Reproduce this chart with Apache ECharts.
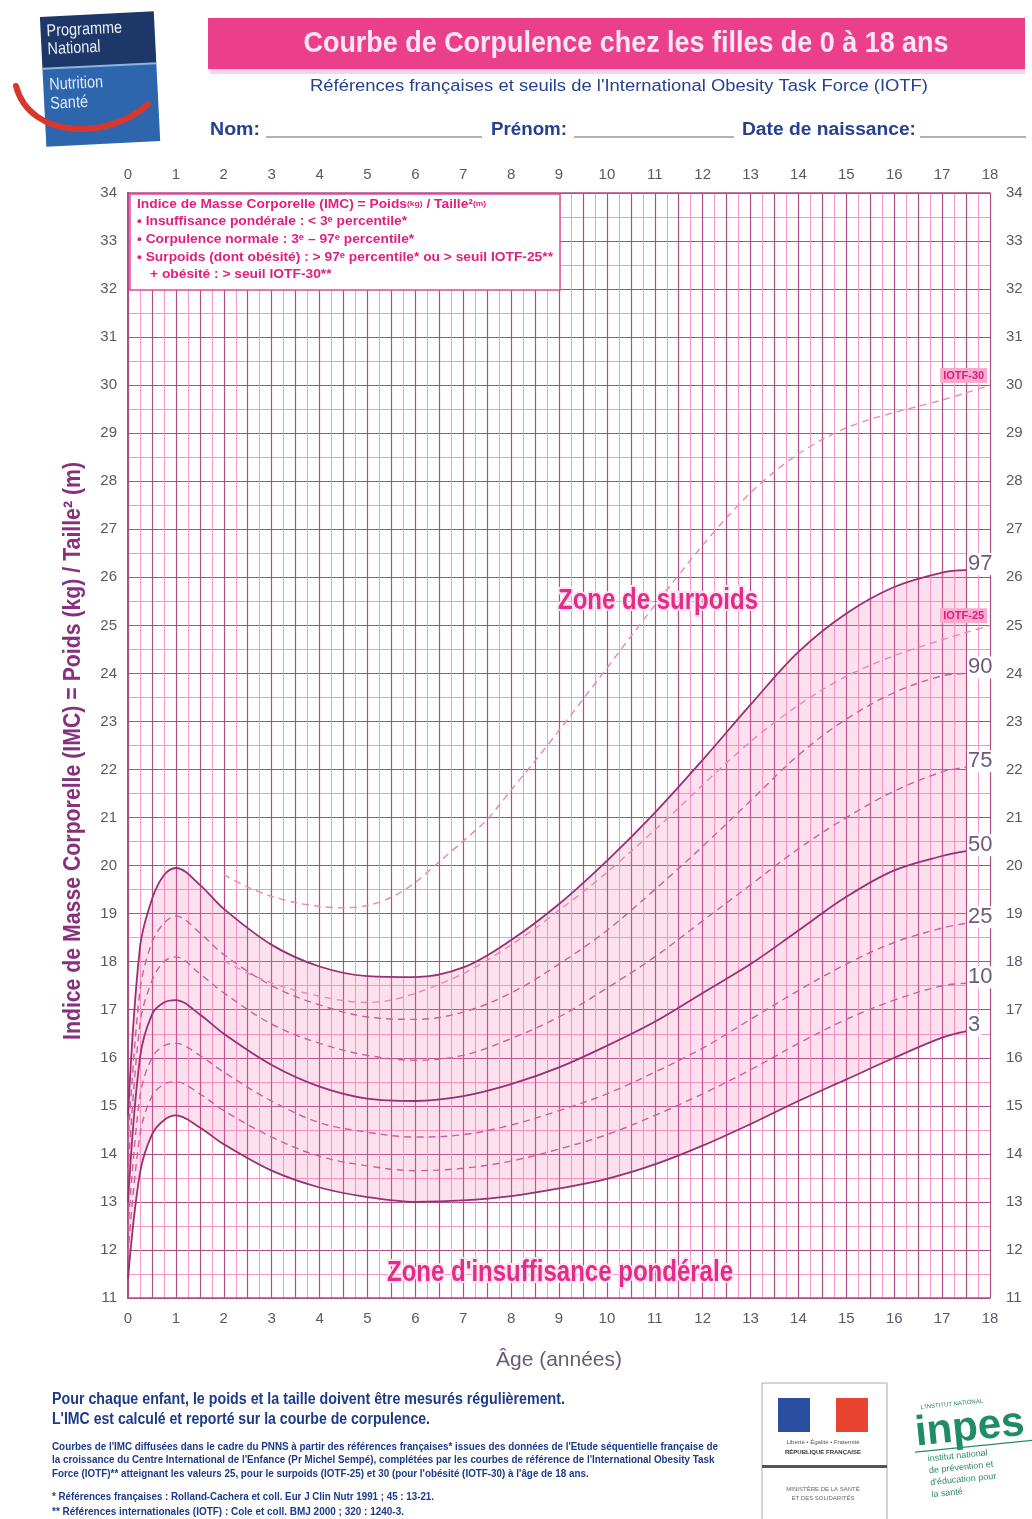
<!DOCTYPE html>
<html><head><meta charset="utf-8">
<script src="https://cdn.jsdelivr.net/npm/echarts@6/dist/echarts.min.js"></script>
<style>html,body{margin:0;padding:0;background:#fff}#c{width:1032px;height:1519px}</style>
</head><body><div id="c"></div><script>
// ---- data ----
const ages = [0, 0.25, 0.5, 0.75, 1, 1.5, 2, 3, 4, 5, 6, 7, 8, 9, 10, 11, 12, 13, 14, 15, 16, 17, 17.5];
const p97 = [14.8, 18.3, 19.3, 19.8, 19.95, 19.6, 19.1, 18.35, 17.9, 17.7, 17.68, 17.88, 18.45, 19.2, 20.1, 21.1, 22.2, 23.35, 24.45, 25.25, 25.8, 26.1, 26.15];
const p90 = [14.2, 17.4, 18.4, 18.8, 18.95, 18.6, 18.15, 17.5, 17.1, 16.85, 16.8, 16.95, 17.35, 17.95, 18.65, 19.5, 20.4, 21.35, 22.3, 23.05, 23.6, 23.95, 24.0];
const p75 = [13.6, 16.7, 17.6, 18.0, 18.1, 17.75, 17.35, 16.7, 16.3, 16.05, 15.95, 16.05, 16.4, 16.85, 17.45, 18.1, 18.85, 19.6, 20.35, 21.0, 21.55, 21.95, 22.05];
const p50 = [13.0, 16.0, 16.9, 17.15, 17.2, 16.9, 16.5, 15.85, 15.4, 15.15, 15.1, 15.2, 15.45, 15.8, 16.25, 16.75, 17.35, 17.95, 18.65, 19.35, 19.9, 20.2, 20.3];
const p25 = [12.4, 15.2, 16.0, 16.25, 16.3, 16.05, 15.7, 15.1, 14.65, 14.45, 14.35, 14.4, 14.6, 14.9, 15.25, 15.7, 16.2, 16.8, 17.4, 17.95, 18.4, 18.7, 18.8];
const p10 = [11.9, 14.4, 15.2, 15.45, 15.5, 15.25, 14.9, 14.35, 13.95, 13.75, 13.65, 13.7, 13.85, 14.1, 14.4, 14.8, 15.25, 15.75, 16.3, 16.8, 17.2, 17.5, 17.55];
const p3  = [11.4, 13.6, 14.4, 14.7, 14.8, 14.55, 14.2, 13.65, 13.3, 13.1, 13.0, 13.03, 13.12, 13.28, 13.48, 13.78, 14.17, 14.62, 15.1, 15.55, 16.0, 16.42, 16.55];
const iotfAges = [2, 2.5, 3, 3.5, 4, 4.5, 5, 5.5, 6, 6.5, 7, 7.5, 8, 8.5, 9, 9.5, 10, 10.5, 11, 11.5, 12, 12.5, 13, 13.5, 14, 14.5, 15, 15.5, 16, 16.5, 17, 17.5, 18];
const iotf30 = [19.81, 19.55, 19.36, 19.23, 19.15, 19.12, 19.17, 19.34, 19.65, 20.08, 20.51, 20.96, 21.57, 22.18, 22.81, 23.46, 24.11, 24.77, 25.42, 26.05, 26.67, 27.24, 27.76, 28.20, 28.57, 28.87, 29.11, 29.29, 29.43, 29.56, 29.69, 29.84, 30.0];
const iotf25 = [18.02, 17.76, 17.56, 17.40, 17.28, 17.19, 17.15, 17.20, 17.34, 17.53, 17.75, 18.03, 18.35, 18.69, 19.07, 19.45, 19.86, 20.29, 20.74, 21.20, 21.68, 22.14, 22.58, 22.98, 23.34, 23.66, 23.94, 24.17, 24.37, 24.54, 24.70, 24.85, 25.00];
const xTicks = [0, 18, 1];   // min, max, label step
const yTicks = [11, 34, 1];

// ---- style ----
const FF = "'Liberation Sans',Arial,sans-serif";
const DARK = '#b04c86', MINOR = '#f59ac6', SOLID = '#983170', DASH = '#cf5f98', IOTF = '#ec86b7';
const pairs = (xs, ys) => xs.map((x, i) => [x, ys[i]]);
const intFmt = v => Number.isInteger(v) ? String(v) : '';
const mctx = document.createElement('canvas').getContext('2d');
function fit(text, font, target) { mctx.font = font; return target / mctx.measureText(text).width; }
function ftext(text, x, y, font, target, fill, extraStyle) {
  const s = fit(text.split('\n')[0], font, target);
  return { type: 'text', x, y, scaleX: s,
    style: Object.assign({ text, font, fill, textAlign: 'left', textVerticalAlign: 'middle' }, extraStyle || {}) };
}

function pctSeries(name, arr, dashed) {
  return {
    name, type: 'line', xAxisIndex: 0, yAxisIndex: 0, data: pairs(ages, arr),
    smooth: 0.35, showSymbol: false, silent: true, z: 5,
    lineStyle: { color: dashed ? DASH : SOLID, width: dashed ? 1.4 : 1.8, type: dashed ? [7, 5] : 'solid' },
    endLabel: { show: true, formatter: name, color: '#6d5a7c', fontSize: 22, fontFamily: FF,
      backgroundColor: '#fff', padding: [0, 1, 0, 1], distance: 1, offset: [0, -6] }
  };
}

const boxFont = 'bold 13px ' + FF;
const boxScale = fit('• Surpoids (dont obésité) : > 97ᵉ percentile* ou > seuil IOTF-25**', boxFont, 416);
const boxLine = (t, x, y) => ({ type: 'text', x, y, z: 11, scaleX: boxScale,
  style: { text: t, fill: '#e0207e', font: boxFont, textVerticalAlign: 'middle',
    rich: { s: { fontSize: 8, fontWeight: 'bold', fill: '#e0207e', fontFamily: FF } } } });

const titleFont = 'bold 30px ' + FF;
const titleTxt = 'Courbe de Corpulence chez les filles de 0 à 18 ans';
const zoneFont = 'bold 30px ' + FF;
const yName = 'Indice de Masse Corporelle (IMC) = Poids (kg) / Taille² (m)';
const yNameFont = 'bold 24px ' + FF;
const para = "Courbes de l'IMC diffusées dans le cadre du PNNS à partir des références françaises* issues des données de l'Etude séquentielle française de\nla croissance du Centre International de l'Enfance (Pr Michel Sempé), complétées par les courbes de référence de l'International Obesity Task\nForce (IOTF)** atteignant les valeurs 25, pour le surpoids (IOTF-25) et 30 (pour l'obésité (IOTF-30) à l'âge de 18 ans.";

const chart = echarts.init(document.getElementById('c'), null, { renderer: 'canvas' });
const axisLab = { color: '#5d5762', fontSize: 15, fontFamily: FF };
chart.setOption({
  animation: false,
  backgroundColor: '#fff',
  grid: { left: 128, right: 42, top: 193, bottom: 221, containLabel: false },
  xAxis: [
    { type: 'value', min: xTicks[0], max: xTicks[1], interval: 0.5, position: 'bottom',
      name: 'Âge (années)', nameLocation: 'middle', nameGap: 52,
      nameTextStyle: { color: '#6b5a76', fontSize: 21, fontFamily: FF },
      axisLine: { show: true, lineStyle: { color: DARK, width: 1.5 } }, axisTick: { show: false },
      axisLabel: Object.assign({ formatter: intFmt, margin: 13 }, axisLab),
      splitLine: { show: true, lineStyle: { color: DARK, width: 1.2 } },
      minorTick: { show: false, splitNumber: 2 },
      minorSplitLine: { show: true, lineStyle: { color: MINOR, width: 1 } } },
    { type: 'value', min: xTicks[0], max: xTicks[1], interval: xTicks[2], position: 'top',
      axisLine: { show: true, lineStyle: { color: DARK, width: 1.5 } }, axisTick: { show: false },
      axisLabel: Object.assign({ margin: 11 }, axisLab), splitLine: { show: false } }
  ],
  yAxis: [
    { type: 'value', min: yTicks[0], max: yTicks[1], interval: yTicks[2], position: 'left',
      axisLine: { show: true, lineStyle: { color: DARK, width: 2 } }, axisTick: { show: false },
      axisLabel: Object.assign({ margin: 11 }, axisLab),
      splitLine: { show: true, lineStyle: { color: DARK, width: 1.2 } },
      minorTick: { show: false, splitNumber: 2 },
      minorSplitLine: { show: true, lineStyle: { color: MINOR, width: 1 } } },
    { type: 'value', min: yTicks[0], max: yTicks[1], interval: yTicks[2], position: 'right',
      axisLine: { show: true, lineStyle: { color: DARK, width: 1.5 } }, axisTick: { show: false },
      axisLabel: Object.assign({ margin: 16 }, axisLab), splitLine: { show: false } }
  ],
  series: [
    // band 3rd–97th: value dimension first so the stack applies to BMI
    { name: 'base', type: 'line', stack: 'band', data: ages.map((a, i) => [p3[i], a]), encode: { x: 1, y: 0 },
      smooth: 0.35, showSymbol: false, silent: true, lineStyle: { opacity: 0 }, z: 2 },
    { name: 'band', type: 'line', stack: 'band', data: ages.map((a, i) => [+(p97[i] - p3[i]).toFixed(3), a]), encode: { x: 1, y: 0 },
      smooth: 0.35, showSymbol: false, silent: true, lineStyle: { opacity: 0 }, z: 2,
      areaStyle: { color: 'rgba(244,125,182,0.34)' } },
    pctSeries('97', p97, false),
    pctSeries('90', p90, true),
    pctSeries('75', p75, true),
    pctSeries('50', p50, false),
    pctSeries('25', p25, true),
    pctSeries('10', p10, true),
    pctSeries('3', p3, false),
    { name: 'IOTF-30', type: 'line', data: pairs(iotfAges, iotf30), smooth: 0.3, showSymbol: false, silent: true, z: 4,
      lineStyle: { color: IOTF, width: 1.4, type: [7, 5] },
      markPoint: { symbol: 'rect', symbolSize: 0, silent: true,
        data: [{ coord: [17.45, 30.2], label: { show: true, formatter: 'IOTF-30', color: '#d81f7a', fontSize: 11, fontWeight: 'bold',
          fontFamily: FF, backgroundColor: '#f8a9cf', padding: [2, 3] } }] } },
    { name: 'IOTF-25', type: 'line', data: pairs(iotfAges, iotf25), smooth: 0.3, showSymbol: false, silent: true, z: 4,
      lineStyle: { color: IOTF, width: 1.4, type: [7, 5] },
      markPoint: { symbol: 'rect', symbolSize: 0, silent: true,
        data: [{ coord: [17.45, 25.2], label: { show: true, formatter: 'IOTF-25', color: '#d81f7a', fontSize: 11, fontWeight: 'bold',
          fontFamily: FF, backgroundColor: '#f8a9cf', padding: [2, 3] } }] } }
  ],
  graphic: [
    // title banner
    { type: 'rect', shape: { x: 210, y: 68, width: 815, height: 6 }, style: { fill: '#fbd3e6' } },
    { type: 'rect', shape: { x: 208, y: 18, width: 817, height: 51 }, style: { fill: '#ec3f8b' } },
    { type: 'text', x: 626, y: 44, scaleX: fit(titleTxt, titleFont, 645),
      style: { text: titleTxt, fill: '#fde7f2', font: titleFont, textAlign: 'center', textVerticalAlign: 'middle' } },
    { type: 'text', x: 619, y: 87, scaleX: fit("Références françaises et seuils de l'International Obesity Task Force (IOTF)", '16px ' + FF, 618),
      style: { text: "Références françaises et seuils de l'International Obesity Task Force (IOTF)",
      fill: '#27408f', font: '16px ' + FF, textAlign: 'center', textVerticalAlign: 'middle' } },
    ftext('Nom:', 210, 130, 'bold 18px ' + FF, 50, '#24408f'),
    { type: 'line', shape: { x1: 266, y1: 137, x2: 482, y2: 137 }, style: { stroke: '#666', lineWidth: 1.2 } },
    ftext('Prénom:', 491, 130, 'bold 18px ' + FF, 76, '#24408f'),
    { type: 'line', shape: { x1: 574, y1: 137, x2: 734, y2: 137 }, style: { stroke: '#666', lineWidth: 1.2 } },
    ftext('Date de naissance:', 742, 130, 'bold 18px ' + FF, 174, '#24408f'),
    { type: 'line', shape: { x1: 920, y1: 137, x2: 1026, y2: 137 }, style: { stroke: '#666', lineWidth: 1.2 } },
    // PNNS logo
    { type: 'group', x: 100, y: 78, rotation: 0.05, children: [
      { type: 'rect', shape: { x: -57, y: -64, width: 114, height: 52 }, style: { fill: '#1d3868' } },
      { type: 'rect', shape: { x: -57, y: -12, width: 114, height: 78 }, style: { fill: '#2d66ad' } },
      { type: 'rect', shape: { x: -57, y: -13, width: 114, height: 2 }, style: { fill: '#8fb3dc' } },
      { type: 'text', x: -51, y: -40, scaleX: 0.85, style: { text: 'Programme\nNational', fill: '#e8eef8', font: '17px ' + FF, lineHeight: 18, textVerticalAlign: 'middle' } },
      { type: 'text', x: -51, y: 14, scaleX: 0.85, style: { text: 'Nutrition\nSanté', fill: '#dfe9f7', font: '17px ' + FF, lineHeight: 19, textVerticalAlign: 'middle' } }
    ] },
    { type: 'bezierCurve', shape: { x1: 16, y1: 86, cpx1: 30, cpy1: 140, cpx2: 110, cpy2: 140, x2: 148, y2: 104 },
      style: { stroke: '#d8382c', lineWidth: 6, fill: null, lineCap: 'round' } },
    // info box
    { type: 'rect', shape: { x: 130, y: 194, width: 430, height: 96 }, style: { fill: '#fff', stroke: '#e24b94', lineWidth: 1.5 }, z: 10 },
    boxLine('Indice de Masse Corporelle (IMC) = Poids{s|(kg)} / Taille²{s|(m)}', 137, 204),
    boxLine('• Insuffisance pondérale : < 3ᵉ percentile*', 137, 221),
    boxLine('• Corpulence normale : 3ᵉ – 97ᵉ percentile*', 137, 239),
    boxLine('• Surpoids (dont obésité) : > 97ᵉ percentile* ou > seuil IOTF-25**', 137, 257),
    boxLine('+ obésité : > seuil IOTF-30**', 150, 274),
    // y axis name
    { type: 'text', x: 73, y: 751, rotation: Math.PI / 2, scaleX: fit(yName, yNameFont, 578),
      style: { text: yName, fill: '#87307c', font: yNameFont, textAlign: 'center', textVerticalAlign: 'middle' } },
    // zone labels
    { type: 'text', x: 658, y: 601, z: 12, scaleX: fit('Zone de surpoids', zoneFont, 200),
      style: { text: 'Zone de surpoids', fill: '#e42b87', stroke: '#fde3ef', lineWidth: 4,
      font: zoneFont, textAlign: 'center', textVerticalAlign: 'middle' } },
    { type: 'text', x: 560, y: 1273, z: 12, scaleX: fit("Zone d'insuffisance pondérale", zoneFont, 346),
      style: { text: "Zone d'insuffisance pondérale", fill: '#e42b87', stroke: '#fde3ef', lineWidth: 4,
      font: zoneFont, textAlign: 'center', textVerticalAlign: 'middle' } },
    // bottom notes
    ftext('Pour chaque enfant, le poids et la taille doivent être mesurés régulièrement.', 52, 1400, 'bold 16px ' + FF, 513, '#1c3a8c'),
    ftext("L'IMC est calculé et reporté sur la courbe de corpulence.", 52, 1420, 'bold 16px ' + FF, 378, '#1c3a8c'),
    ftext(para, 52, 1440, 'bold 10.5px ' + FF, 666, '#1c3a8c', { lineHeight: 13.5, textVerticalAlign: 'top' }),
    ftext('* Références françaises : Rolland-Cachera et coll. Eur J Clin Nutr 1991 ; 45 : 13-21.', 52, 1497, 'bold 10.5px ' + FF, 382, '#1c3a8c'),
    ftext('** Références internationales (IOTF) : Cole et coll. BMJ 2000 ; 320 : 1240-3.', 52, 1512, 'bold 10.5px ' + FF, 352, '#1c3a8c'),
    // République française logo
    { type: 'rect', shape: { x: 762, y: 1383, width: 125, height: 140 }, style: { fill: '#fff', stroke: '#aaa', lineWidth: 1 } },
    { type: 'rect', shape: { x: 778, y: 1398, width: 32, height: 34 }, style: { fill: '#2a4ea0' } },
    { type: 'rect', shape: { x: 836, y: 1398, width: 32, height: 34 }, style: { fill: '#e8432e' } },
    { type: 'text', x: 823, y: 1442, style: { text: 'Liberté • Égalité • Fraternité', fill: '#555', font: '6px ' + FF, textAlign: 'center', textVerticalAlign: 'middle' } },
    { type: 'text', x: 823, y: 1452, style: { text: 'RÉPUBLIQUE FRANÇAISE', fill: '#333', font: 'bold 6px ' + FF, textAlign: 'center', textVerticalAlign: 'middle' } },
    { type: 'rect', shape: { x: 762, y: 1465, width: 125, height: 3 }, style: { fill: '#555' } },
    { type: 'text', x: 823, y: 1494, style: { text: 'MINISTÈRE DE LA SANTÉ\nET DES SOLIDARITÉS', fill: '#666', font: '6px ' + FF, lineHeight: 9, textAlign: 'center', textVerticalAlign: 'middle' } },
    // INPES logo
    { type: 'group', x: 975, y: 1428, rotation: 0.1, children: [
      { type: 'text', x: -60, y: 0, style: { text: 'inpes', fill: '#1f8c63', font: 'bold 42px ' + FF, textVerticalAlign: 'middle' } },
      { type: 'text', x: -52, y: -26, style: { text: "L'INSTITUT NATIONAL", fill: '#2a8a62', font: '6px ' + FF, textVerticalAlign: 'middle' } },
      { type: 'line', shape: { x1: -62, y1: 18, x2: 62, y2: 18 }, style: { stroke: '#2a8a62', lineWidth: 1.2 } },
      { type: 'text', x: -50, y: 44, style: { text: "institut national\nde prévention et\nd'éducation pour\nla santé", fill: '#2a8a62', font: '9px ' + FF, lineHeight: 12, textVerticalAlign: 'middle' } }
    ] }
  ]
});
</script></body></html>
